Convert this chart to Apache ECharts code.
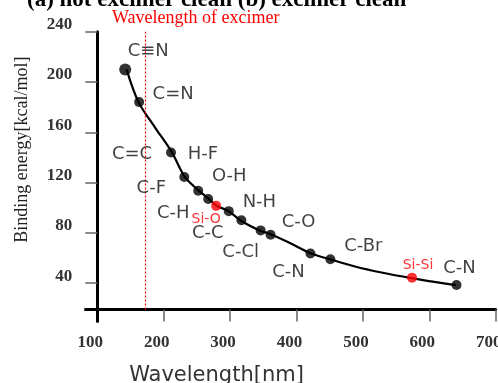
<!DOCTYPE html>
<html><head><meta charset="utf-8">
<script src="https://cdn.jsdelivr.net/npm/echarts@6/dist/echarts.min.js"></script>
<style>html,body{margin:0;padding:0;background:#fff}#c{width:498px;height:383px}</style>
</head><body><div id="c"></div>
<script>
// ---- data ----
const bondNames   = ["C\u2261N","C=N","C=C","H-F","C-F","O-H","C-H","Si-O","C-C","N-H","C-Cl","C-O","C-N","C-Br","Si-Si","C-N"];
const wavelengths = [142, 163, 211, 211, 231, 252, 267, 279, 298, 317, 346, 361, 421, 451, 574, 641];
const energies    = [210, 184, 144, 144, 124.5, 113.5, 107, 101.5, 97.3, 90, 82, 78.5, 63.6, 59, 44.4, 38.6];
const redBonds    = ["Si-O", "Si-Si"];
// fitted curve as drawn in the reference
const curveWavelength = [144, 162, 187, 212, 232, 252, 267, 280, 297, 317, 346, 361, 387, 422, 450, 488, 528, 573, 608, 640];
const curveEnergy     = [210, 184, 163.8, 144.4, 124.3, 114, 107.4, 101.5, 97.5, 89.5, 81.6, 79, 72.8, 63.6, 59.1, 53.3, 48.5, 44, 41, 38.4];
const xTicks = [100, 200, 300, 400, 500, 600, 700];
const yTicks = [40, 80, 120, 160, 200, 240];
const excimerWavelength = 172;
const titleText = "(a) not excimer clean (b) excimer clean";
const excimerText = "Wavelength of excimer";
const xName = "Wavelength[nm]";
const yName = "Binding energy[kcal/mol]";

// ---- layout only: label offsets from their point (px) ----
const labelOffsets = [[23,-18],[34,-8],[-39,2],[32,2],[-33,11],[31,-14],[-35,14],[-10,14],[-21,22],[18,-18],[-20,22],[28,-12],[-22,19],[33,-13],[6,-12],[3,-17]];

const pts = bondNames.map((n, i) => ({name: n, value: [wavelengths[i], energies[i]], idx: i}));
const curvePts = curveWavelength.map((w, i) => [w, curveEnergy[i]]);
const seen = {};
const blackPts = [], redPts = [];
pts.forEach(p => {
  const k = p.value.join(',');
  if (seen[k]) return; seen[k] = 1;
  (redBonds.includes(p.name) ? redPts : blackPts).push({value: p.value, symbolSize: p.idx === 0 ? 12 : 10});
});
const labelData = pts.map((p, i) => {
  const red = redBonds.includes(p.name);
  return {
    name: p.name, value: p.value,
    label: {
      offset: labelOffsets[i],
      color: red ? '#ff0000' : '#111',
      fontSize: red ? 14 : 18
    }
  };
});

const chart = echarts.init(document.getElementById('c'), null, {renderer: 'canvas'});
const serif = "'Liberation Serif', serif";
const tickLabel = {fontFamily: serif, fontSize: 17, fontWeight: 'bold', color: '#333'};
chart.setOption({
  animation: false,
  backgroundColor: '#fff',
  title: [
    {text: titleText, left: 27, top: -11, padding: 0,
     textStyle: {fontFamily: serif, fontSize: 23, fontWeight: 'bold', color: '#000'}},
    {text: excimerText, left: 112, top: 9, padding: 0,
     textStyle: {fontFamily: serif, fontSize: 18, fontWeight: 'normal', color: '#ff0000'}}
  ],
  grid: {left: 97.3, right: 2.3, top: 31.7, bottom: 73.4, containLabel: false, outerBoundsMode: 'none'},
  xAxis: [{
    type: 'value', min: 100, max: 700, interval: 100, position: 'bottom',
    name: xName, nameLocation: 'middle', nameGap: 55,
    nameTextStyle: {fontFamily: "'DejaVu Sans', sans-serif", fontSize: 21, color: '#333', padding: [0, 160, 0, 0]},
    axisLine: {show: true, lineStyle: {color: '#000', width: 3}},
    axisTick: {show: true, inside: false, length: 12, lineStyle: {color: '#666', width: 1.5}},
    axisLabel: Object.assign({margin: 25, padding: [0, 14, 0, 0], customValues: xTicks}, tickLabel),
    splitLine: {show: false}
  }, {
    type: 'value', min: 100, max: 700, position: 'bottom',
    axisLine: {show: false}, axisLabel: {show: false}, splitLine: {show: false},
    axisTick: {show: true, length: 13, customValues: [100], lineStyle: {color: '#000', width: 3}}
  }],
  yAxis: [{
    type: 'value', min: 19, max: 240, position: 'left',
    name: yName, nameLocation: 'middle', nameRotate: 90, nameGap: 66,
    nameTextStyle: {fontFamily: serif, fontSize: 18, color: '#222', padding: [0, 0, 0, 42]},
    axisLine: {show: true, lineStyle: {color: '#000', width: 3}},
    axisTick: {show: true, length: 12, customValues: yTicks, lineStyle: {color: '#666', width: 1.5}},
    axisLabel: Object.assign({margin: 25, customValues: yTicks, verticalAlign: 'bottom', lineHeight: 14}, tickLabel),
    splitLine: {show: false}
  }, {
    type: 'value', min: 19, max: 240, position: 'left',
    axisLine: {show: false}, axisLabel: {show: false}, splitLine: {show: false},
    axisTick: {show: true, length: 13, customValues: [19], lineStyle: {color: '#000', width: 3}}
  }],
  series: [
    {
      type: 'line', data: curvePts, smooth: 0.3, showSymbol: false,
      lineStyle: {color: '#000', width: 2.2}, z: 2,
      markLine: {
        silent: true, symbol: ['none', 'none'], label: {show: false},
        lineStyle: {type: [2, 2], color: '#ff0000', width: 1.2},
        data: [[{coord: [excimerWavelength, 19]}, {coord: [excimerWavelength, 240]}]]
      }
    },
    {type: 'scatter', data: blackPts, itemStyle: {color: '#000'}, z: 3},
    {type: 'scatter', data: redPts, symbolSize: 9, itemStyle: {color: '#ff0000'}, z: 4},
    {
      type: 'scatter', data: labelData, symbolSize: 1, itemStyle: {color: 'rgba(0,0,0,0)'}, z: 5,
      label: {show: true, position: 'inside', formatter: '{b}', fontFamily: "'DejaVu Sans', sans-serif", align: 'center', verticalAlign: 'middle'}
    }
  ]
});
</script></body></html>
